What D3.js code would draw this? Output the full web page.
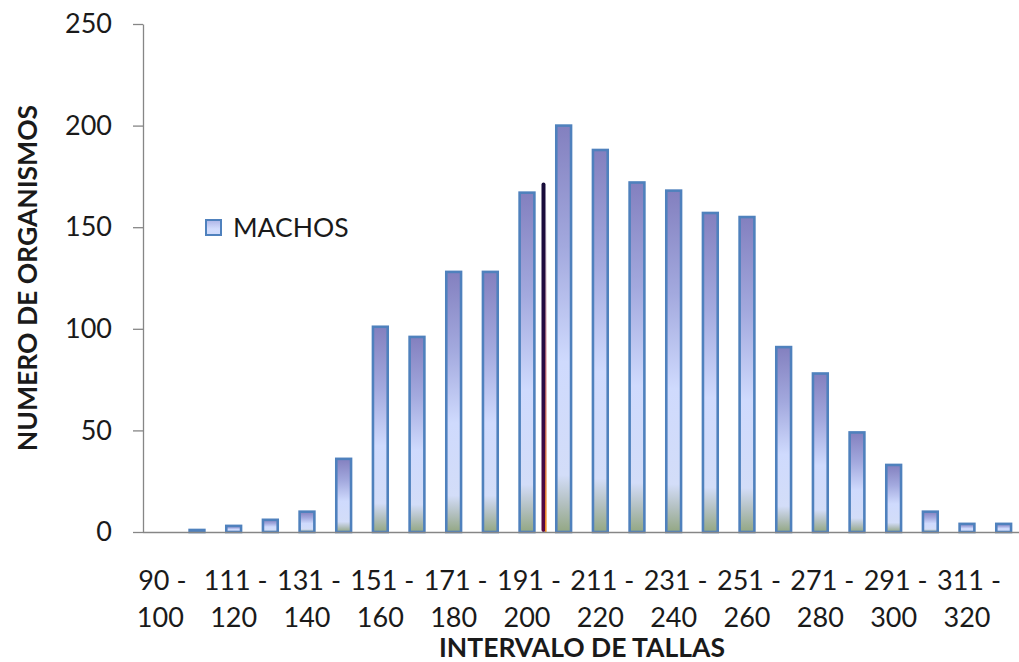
<!DOCTYPE html>
<html>
<head>
<meta charset="utf-8">
<script src="https://cdn.jsdelivr.net/npm/d3@7"></script>
<style>
  html, body { margin: 0; padding: 0; background: #fff; }
  svg { display: block; }
  text { font-family: "Lato", "Liberation Sans", sans-serif; fill: #1a1a1a; }
</style>
</head>
<body>
<svg id="chart" width="1019" height="662"></svg>
<script>
// ---- data ----
const categories = ["90 - 100","101 - 110","111 - 120","121 - 130","131 - 140","141 - 150",
  "151 - 160","161 - 170","171 - 180","181 - 190","191 - 200","201 - 210","211 - 220",
  "221 - 230","231 - 240","241 - 250","251 - 260","261 - 270","271 - 280","281 - 290",
  "291 - 300","301 - 310","311 - 320","321 - 330"];
const machos = [0,1,3,6,10,36,101,96,128,128,167,200,188,172,168,157,155,91,78,49,33,10,4,4];
const yTicks = [0,50,100,150,200,250];
const seriesName = "MACHOS";
const yTitle = "NUMERO DE ORGANISMOS";
const xTitle = "INTERVALO DE TALLAS";
const meanLength = [199.5]; // talla media (mm)
const meanHeight = [172];   // altura de la línea de la media

// ---- layout ----
const svg = d3.select("#chart");
const pLeft = 142, pRight = 1022, pTop = 24, pBottom = 532;

const x = d3.scaleBand().domain(categories).range([pLeft, pRight])
  .paddingInner(0.57).paddingOuter(0.285);
const y = d3.scaleLinear().domain([0, 250]).range([pBottom, pTop]);
const midFirst = x(categories[0]) + x.bandwidth() / 2;
const midLast = x(categories[categories.length - 1]) + x.bandwidth() / 2;
const xLen = d3.scaleLinear().domain([95, 95 + 10 * (categories.length - 1)]).range([midFirst, midLast]);

// gradients
const defs = svg.append("defs");
const g1 = defs.append("linearGradient").attr("id", "barGrad")
  .attr("x1", 0).attr("y1", 0).attr("x2", 0).attr("y2", 1);
[[0, "#8380bf"], [0.3, "#a3a9de"], [0.58, "#cfdafd"], [0.86, "#d3ddf8"], [0.93, "#b3c0c0"], [1, "#93a783"]]
  .forEach(([o, c]) => g1.append("stop").attr("offset", o).attr("stop-color", c));
const g2 = defs.append("linearGradient").attr("id", "legGrad")
  .attr("x1", 0).attr("y1", 0).attr("x2", 0).attr("y2", 1);
[[0, "#aeb4e6"], [0.6, "#d3ddfd"], [1, "#cdd8fa"]]
  .forEach(([o, c]) => g2.append("stop").attr("offset", o).attr("stop-color", c));
const g3 = defs.append("linearGradient").attr("id", "meanGrad")
  .attr("x1", 0).attr("y1", 0).attr("x2", 0).attr("y2", 1);
[[0, "#170c3a"], [0.6, "#2a0a45"], [1, "#5a0840"]]
  .forEach(([o, c]) => g3.append("stop").attr("offset", o).attr("stop-color", c));
const g4 = defs.append("linearGradient").attr("id", "meanEdge")
  .attr("x1", 0).attr("y1", 0).attr("x2", 0).attr("y2", 1);
[[0, "#170c3a", 0], [0.5, "#b0303a", 0.5], [1, "#f39020", 1]]
  .forEach(([o, c, op]) => g4.append("stop").attr("offset", o).attr("stop-color", c).attr("stop-opacity", op));

// bars
svg.append("g").selectAll("rect").data(categories.map((c, i) => ({c, v: machos[i]})).filter(d => d.v > 0))
  .join("rect")
  .attr("x", d => x(d.c) + 0.5)
  .attr("y", d => y(d.v))
  .attr("width", x.bandwidth() - 1)
  .attr("height", d => y(0) - y(d.v))
  .attr("fill", "url(#barGrad)")
  .attr("stroke", "#4f81bd")
  .attr("stroke-width", 2.6);

// mean line
const mx = xLen(meanLength[0]);
svg.append("rect").attr("x", mx - 2).attr("y", y(meanHeight[0]))
  .attr("width", 4).attr("height", y(0) - y(meanHeight[0])).attr("rx", 2)
  .attr("fill", "url(#meanGrad)");
svg.append("rect").attr("x", mx + 1.5).attr("y", y(meanHeight[0]) + 10).attr("width", 1.6)
  .attr("height", y(0) - y(meanHeight[0]) - 10).attr("fill", "url(#meanEdge)");

// y axis
const yAxis = svg.append("g").attr("transform", `translate(${pLeft + 1},0)`)
  .call(d3.axisLeft(y).tickValues(yTicks).tickSize(10).tickPadding(21).tickSizeOuter(0));
yAxis.select(".domain").attr("stroke", "#868686").attr("stroke-width", 1.3);
yAxis.selectAll(".tick line").attr("stroke", "#868686").attr("stroke-width", 1.3);
yAxis.selectAll(".tick text").attr("font-size", 27).attr("font-family", "Lato").attr("fill", "#1a1a1a");

// x axis line
svg.append("line").attr("x1", pLeft + 1).attr("x2", 1019).attr("y1", pBottom + 0.5).attr("y2", pBottom + 0.5)
  .attr("stroke", "#868686").attr("stroke-width", 1.5);

// x labels (every other category)
const xl = svg.append("g").selectAll("text")
  .data(categories.filter((c, i) => i % 2 === 0))
  .join("text")
  .attr("text-anchor", "middle")
  .attr("font-size", 27);
xl.append("tspan").attr("x", d => x(d) + x.bandwidth() / 2 + 2).attr("y", 590)
  .text(d => d.split(" - ")[0] + " -");
xl.append("tspan").attr("x", d => x(d) + x.bandwidth() / 2).attr("y", 627)
  .text(d => d.split(" - ")[1]);

// axis titles
svg.append("text").attr("x", (pLeft + pRight) / 2).attr("y", 657)
  .attr("text-anchor", "middle").attr("font-size", 26.5).attr("font-weight", "bold").text(xTitle);
svg.append("text").attr("transform", `translate(37,${(pTop + pBottom) / 2}) rotate(-90)`)
  .attr("text-anchor", "middle").attr("font-size", 26.5).attr("font-weight", "bold").text(yTitle);

// legend
svg.append("rect").attr("x", 206).attr("y", 220).attr("width", 15).attr("height", 15)
  .attr("fill", "url(#legGrad)").attr("stroke", "#4f81bd").attr("stroke-width", 2);
svg.append("text").attr("x", 233).attr("y", 237).attr("font-size", 26.5).text(seriesName);
</script>
</body>
</html>
